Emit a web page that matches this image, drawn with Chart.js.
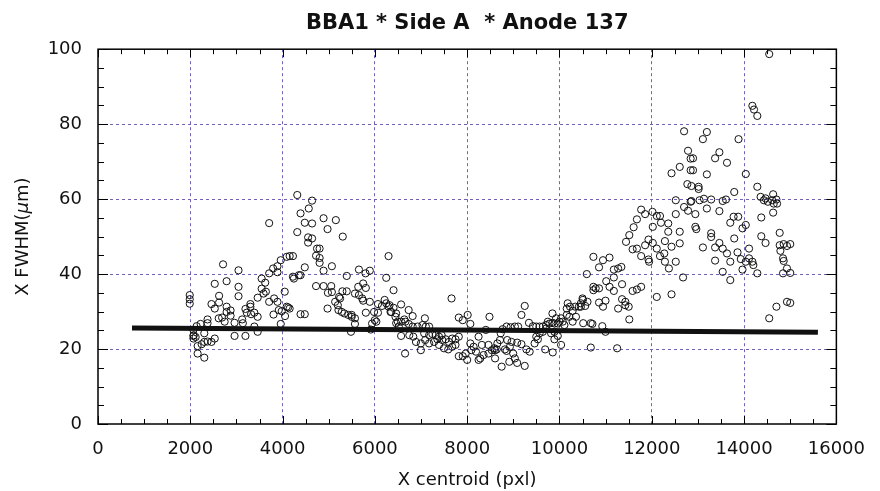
<!DOCTYPE html>
<html>
<head>
<meta charset="utf-8">
<script src="https://cdn.jsdelivr.net/npm/chart.js@4/dist/chart.umd.min.js"></script>
<style>
  html, body { margin: 0; padding: 0; background: #fff; }
  canvas { display: block; }
</style>
</head>
<body>
<canvas id="fwhmChart" width="880" height="491"></canvas>
<script>
// Axis ticks
const xTickValues = [0, 2000, 4000, 6000, 8000, 10000, 12000, 14000, 16000];
const yTickValues = [0, 20, 40, 60, 80, 100];

// Measured points [x centroid (pxl), X FWHM (um)], grouped by x range
const pts2000to4000 = [
  [1988, 34.4], [1988, 33.3], [1988, 32.1], [2710, 42.6], [3045, 41.0], [2530, 37.4], [2787, 38.1],
  [3045, 36.6], [3045, 34.1], [2624, 34.2], [2459, 32.0], [2530, 30.8], [2624, 32.4], [2787, 31.3],
  [2787, 29.9], [2873, 30.3], [2873, 28.9], [2689, 28.4], [2616, 28.2], [2744, 27.3], [2959, 27.0],
  [2374, 27.9], [2374, 26.9], [2223, 26.7], [2138, 26.1], [2067, 25.1], [2067, 23.5], [2067, 22.8],
  [2303, 24.2], [2530, 22.8], [2459, 21.9], [2374, 22.0], [2303, 21.9], [2245, 21.3], [2159, 20.8],
  [2159, 18.8], [2303, 17.7], [2959, 23.5], [3195, 23.5], [3195, 30.7], [3302, 32.0], [3302, 31.3],
  [3224, 29.7], [3124, 27.9], [3139, 26.9], [3317, 29.3], [3388, 29.7], [3460, 28.6], [3388, 26.0],
  [3460, 24.6], [3460, 33.7], [3546, 38.8], [3623, 37.7], [3546, 36.1], [3589, 34.8], [3638, 35.3],
  [3709, 40.2], [3795, 41.5], [3889, 42.1], [3960, 43.7], [3889, 40.5], [4089, 44.6], [3709, 32.6],
  [3816, 33.5], [3889, 32.6], [3803, 29.2], [3981, 30.1], [4046, 35.3], [3960, 26.7], [4089, 31.3],
  [3709, 53.6], [3917, 30.4], [4053, 28.8], [4120, 31.1], [2073, 23.7], [2116, 23.2]
];
const pts4000to6300 = [
  [4318, 61.1], [4639, 59.6], [4567, 57.5], [4389, 56.2], [4481, 53.7], [4639, 53.5], [4888, 54.9],
  [5154, 54.4], [4974, 52.0], [4318, 51.2], [5304, 50.0], [4553, 49.8], [4639, 49.5], [4553, 48.4],
  [4746, 46.8], [4802, 46.8], [4725, 44.9], [4802, 44.3], [4802, 43.0], [4153, 44.8], [4224, 44.8],
  [4481, 41.8], [4224, 39.3], [4245, 38.8], [4352, 39.7], [4389, 39.7], [4888, 40.9], [5068, 42.1],
  [5390, 39.5], [4725, 36.8], [4888, 36.8], [5054, 36.8], [4982, 35.0], [5068, 35.2], [5296, 35.4],
  [5390, 35.4], [4389, 29.3], [4481, 29.3], [4974, 30.8], [4153, 30.8], [5139, 32.6], [5197, 31.7],
  [5225, 33.9], [5246, 33.5], [5210, 30.4], [5282, 29.9], [5339, 29.5], [5424, 29.1], [5497, 29.1],
  [5568, 28.2], [5497, 28.6], [5568, 26.7], [5482, 24.6], [5654, 41.2], [5797, 40.2], [5890, 40.9],
  [5639, 36.6], [5746, 37.5], [5804, 36.3], [5568, 34.8], [5654, 34.4], [5725, 33.5], [5746, 32.9],
  [5890, 32.6], [5804, 29.7], [5982, 29.9], [6067, 32.0], [6153, 31.5], [6211, 33.1], [6246, 32.2],
  [6296, 31.3], [6339, 29.9], [5997, 27.7], [6032, 27.3], [5939, 26.8], [5911, 25.2], [6067, 29.7],
  [6296, 44.8], [6246, 39.0]
];
const pts6300to8600 = [
  [6404, 35.7], [6318, 31.7], [6404, 31.0], [6354, 29.9], [6461, 29.5], [6446, 28.6], [6568, 31.9],
  [6732, 30.4], [6818, 28.8], [6496, 27.3], [6568, 27.3], [6639, 27.9], [6661, 27.3], [6732, 26.7],
  [6461, 26.9], [6518, 26.0], [6568, 23.5], [6654, 18.8], [6746, 23.7], [6832, 23.3], [6890, 21.9],
  [6996, 21.5], [6996, 19.7], [6925, 26.0], [7032, 26.4], [7083, 28.2], [7104, 26.0], [7175, 26.0],
  [6818, 26.0], [7068, 24.2], [7175, 23.7], [7246, 24.0], [7318, 23.7], [7389, 23.3], [7447, 23.7],
  [7090, 22.4], [7175, 21.5], [7283, 21.9], [7354, 22.6], [7461, 22.4], [7533, 22.6], [7604, 21.9],
  [7675, 22.8], [7747, 22.6], [7818, 23.3], [7389, 21.1], [7497, 20.2], [7590, 19.9], [7675, 20.6],
  [7747, 21.1], [7661, 33.5], [7818, 28.4], [7904, 27.7], [8011, 29.1], [8068, 26.7], [7818, 18.1],
  [7904, 18.1], [8000, 17.1], [7968, 18.8], [8068, 21.5], [8140, 20.6], [8090, 19.7], [8190, 19.3],
  [8247, 23.3], [8318, 21.1], [8354, 18.4], [8247, 17.1], [8283, 17.5], [8404, 25.1], [8483, 28.6],
  [8462, 18.8], [8533, 19.7], [8590, 20.2], [8462, 21.1]
];
const pts8600to10800 = [
  [10735, 44.6], [10592, 40.0], [10735, 36.6], [10735, 35.7], [10500, 33.5], [10607, 32.6], [10464, 32.2],
  [10557, 31.5], [10464, 31.3], [10178, 32.2], [10228, 31.3], [10157, 30.8], [10342, 31.3], [10285, 30.2],
  [10357, 28.6], [10157, 29.1], [10214, 28.6], [10035, 28.2], [10071, 27.3], [10000, 27.3], [10107, 26.4],
  [10285, 27.3], [10514, 26.9], [10678, 26.9], [10678, 20.4], [9847, 29.5], [9926, 28.2], [9893, 26.8],
  [9847, 27.0], [9963, 26.8], [9783, 26.8], [9711, 26.4], [9747, 27.3], [9640, 26.0], [9568, 26.0],
  [9497, 26.0], [9425, 26.1], [9339, 27.0], [9247, 31.5], [9176, 29.1], [9104, 26.0], [9033, 26.0],
  [8940, 25.8], [8854, 26.0], [8768, 25.3], [8726, 24.2], [9640, 24.6], [9568, 24.2], [9497, 23.3],
  [9711, 25.5], [9818, 24.2], [9890, 24.6], [9963, 23.5], [8711, 22.4], [8654, 21.5], [8640, 19.9],
  [8818, 19.9], [8868, 22.4], [8961, 21.9], [9083, 21.7], [9176, 21.3], [9283, 19.9], [9354, 19.3],
  [9461, 21.5], [9532, 22.6], [8747, 15.3], [8913, 16.6], [9033, 17.5], [9247, 15.5], [9854, 19.1],
  [9690, 19.9], [10035, 21.1], [9890, 22.6], [8997, 18.8], [9083, 16.3], [8925, 20.6], [8854, 19.5],
  [8604, 19.7], [8604, 17.5], [10421, 31.3], [10507, 33.1]
];
const pts10800to12900 = [
  [12700, 78.1], [12786, 72.9], [12842, 70.8], [12606, 68.6], [12428, 66.9], [12842, 67.7], [12771, 64.0],
  [12520, 59.7], [12700, 57.9], [12786, 56.9], [12842, 59.3], [12520, 56.0], [12606, 51.3], [12606, 48.2],
  [12678, 39.1], [12428, 34.6], [12520, 43.3], [12428, 47.3], [11770, 57.2], [11856, 56.0], [11678, 54.6],
  [11607, 52.5], [11513, 50.4], [11442, 48.6], [11585, 46.6], [11678, 46.8], [11856, 47.7], [11770, 44.8],
  [12015, 56.6], [12022, 52.6], [12022, 48.3], [11929, 49.2], [11929, 43.9], [11942, 43.3], [12108, 55.5],
  [12178, 55.5], [12199, 53.7], [12357, 53.5], [12357, 51.3], [12285, 48.8], [12108, 46.8], [12178, 44.8],
  [12271, 45.5], [12285, 43.3], [12371, 41.5], [10857, 41.8], [10943, 43.7], [11084, 44.4], [11178, 41.2],
  [11271, 41.5], [11341, 41.9], [11013, 38.1], [11178, 39.1], [10785, 36.2], [10857, 36.2], [11084, 36.6],
  [11178, 35.5], [11356, 37.3], [11770, 36.6], [11678, 35.9], [11585, 35.5], [10997, 32.9], [10857, 32.4],
  [10943, 31.3], [11271, 30.8], [11356, 33.3], [11427, 32.6], [11500, 31.3], [11427, 31.7], [11513, 27.9],
  [12108, 33.9], [10928, 26.1], [10997, 24.6], [10714, 26.7], [11249, 20.2]
];
const pts12900to15000 = [
  [14545, 98.7], [14180, 84.9], [14215, 83.9], [14287, 82.2], [13194, 77.9], [13108, 76.0], [13880, 76.0],
  [13465, 72.5], [13372, 70.9], [13630, 69.7], [12894, 70.9], [12894, 67.7], [13194, 66.6], [14037, 66.7],
  [13015, 63.3], [13015, 62.7], [12858, 63.5], [13787, 61.9], [14287, 63.3], [14630, 61.3], [14358, 60.6],
  [13036, 59.7], [13130, 60.1], [13287, 59.9], [13537, 59.5], [13608, 59.9], [12858, 59.5], [14429, 59.7],
  [14515, 59.3], [14608, 59.7], [14700, 59.9], [14643, 58.8], [14715, 58.8], [14465, 60.2], [12944, 56.0],
  [13194, 57.5], [13465, 56.8], [14630, 56.4], [13773, 55.3], [13873, 55.3], [13701, 53.7], [13966, 52.2],
  [14037, 53.1], [14373, 55.1], [12944, 52.6], [12965, 52.0], [13287, 50.9], [13287, 49.9], [13787, 49.5],
  [13465, 48.3], [14373, 50.1], [14465, 48.3], [14772, 51.0], [13108, 47.1], [13372, 47.1], [13537, 46.8],
  [13630, 45.5], [13858, 45.8], [14108, 46.8], [13929, 44.0], [14037, 43.3], [14108, 44.2], [14180, 43.3],
  [14201, 42.4], [14287, 40.2], [13701, 43.3], [13372, 43.6], [13537, 40.6], [13701, 38.4], [13966, 41.2],
  [14772, 47.7], [14858, 48.0], [15001, 48.0], [14930, 47.5], [14787, 46.2], [14844, 44.2], [14858, 43.5],
  [14930, 41.5], [15001, 40.3], [14844, 40.2], [14930, 32.6], [15001, 32.3], [14701, 31.3], [14545, 28.2]
];

// Fitted line end points
const fitX = [737, 15600];
const fitY = [25.6, 24.5];

const titleText = 'BBA1 * Side A  * Anode 137';
const FONT = "'DejaVu Sans', 'Liberation Sans', Arial, sans-serif";
const gridColor = '#7360b0';

const scatterPoints = [].concat(pts2000to4000, pts4000to6300, pts6300to8600,
  pts8600to10800, pts10800to12900, pts12900to15000).map(p => ({ x: p[0], y: p[1] }));
const fitPoints = fitX.map((x, i) => ({ x: x, y: fitY[i] }));

// inward minor/major ticks, full frame, and y title with italic mu
const frameTicks = {
  id: 'frameTicks',
  beforeDatasetsDraw(chart) {
    const { ctx, chartArea: a, scales: { x, y } } = chart;
    ctx.save();
    ctx.strokeStyle = '#000';
    ctx.lineWidth = 1;
    ctx.beginPath();
    for (let v = x.min; v <= x.max; v += 500) {
      const px = Math.round(x.getPixelForValue(v)) + 0.5;
      const len = v % 2000 === 0 ? 8 : 5;
      ctx.moveTo(px, a.bottom); ctx.lineTo(px, a.bottom - len);
      ctx.moveTo(px, a.top); ctx.lineTo(px, a.top + len);
    }
    for (let v = y.min; v <= y.max; v += 5) {
      const py = Math.round(y.getPixelForValue(v)) + 0.5;
      const len = v % 20 === 0 ? 10 : 6;
      ctx.moveTo(a.left, py); ctx.lineTo(a.left + len, py);
      ctx.moveTo(a.right, py); ctx.lineTo(a.right - len, py);
    }
    ctx.stroke();
    ctx.lineWidth = 1.5;
    ctx.strokeRect(a.left, a.top, a.right - a.left, a.bottom - a.top);
    ctx.restore();
  },
  afterDraw(chart) {
    const { ctx, chartArea: a } = chart;
    const parts = [
      { t: 'X FWHM(', f: '18px ' + FONT },
      { t: '\u03bc', f: 'italic 18px ' + FONT },
      { t: 'm)', f: '18px ' + FONT }
    ];
    ctx.save();
    let total = 0;
    parts.forEach(p => { ctx.font = p.f; p.w = ctx.measureText(p.t).width; total += p.w; });
    ctx.translate(23, (a.top + a.bottom) / 2);
    ctx.rotate(-Math.PI / 2);
    ctx.fillStyle = '#111';
    ctx.textBaseline = 'middle';
    ctx.textAlign = 'left';
    let cx = -total / 2;
    parts.forEach(p => { ctx.font = p.f; ctx.fillText(p.t, cx, 0); cx += p.w; });
    ctx.restore();
  }
};

const edgeHidden = (ctx, lo, hi) => {
  const v = ctx.tick ? ctx.tick.value : null;
  return (v === lo || v === hi) ? 'rgba(0,0,0,0)' : gridColor;
};

new Chart(document.getElementById('fwhmChart').getContext('2d'), {
  type: 'scatter',
  data: {
    datasets: [{
      type: 'line',
      data: fitPoints,
      showLine: true,
      borderColor: '#111',
      borderWidth: 5,
      pointRadius: 0,
      fill: false
    }, {
      data: scatterPoints,
      pointStyle: 'circle',
      pointRadius: 3.6,
      borderColor: '#111',
      borderWidth: 1,
      backgroundColor: 'rgba(0,0,0,0)'
    }]
  },
  options: {
    responsive: false,
    animation: false,
    layout: { padding: { left: 0, right: 34, top: 0, bottom: 0 } },
    plugins: {
      legend: { display: false },
      tooltip: { enabled: false },
      title: {
        display: true,
        text: titleText,
        fullSize: false,
        color: '#111',
        font: { family: FONT, size: 21, weight: 'bold', lineHeight: 1.2 },
        padding: { top: 11, bottom: 13 }
      }
    },
    scales: {
      x: {
        type: 'linear',
        min: 0,
        max: 16000,
        afterBuildTicks: s => { s.ticks = xTickValues.map(v => ({ value: v })); },
        afterFit: s => { s.height = 67; },
        grid: {
          color: c => edgeHidden(c, 0, 16000),
          lineWidth: 1,
          drawTicks: false
        },
        border: { display: false, dash: [3, 3] },
        ticks: {
          color: '#111',
          padding: 15,
          maxRotation: 0,
          font: { family: FONT, size: 18 },
          callback: v => String(v)
        },
        title: {
          display: true,
          text: 'X centroid (pxl)',
          color: '#111',
          font: { family: FONT, size: 18 },
          padding: { top: 0, bottom: 0 }
        }
      },
      y: {
        type: 'linear',
        min: 0,
        max: 100,
        afterBuildTicks: s => { s.ticks = yTickValues.map(v => ({ value: v })); },
        afterFit: s => { s.width = 98; },
        grid: {
          color: c => edgeHidden(c, 0, 100),
          lineWidth: 1,
          drawTicks: false
        },
        border: { display: false, dash: [3, 3] },
        ticks: {
          color: '#111',
          padding: 16,
          font: { family: FONT, size: 18 },
          callback: v => String(v)
        }
      }
    }
  },
  plugins: [frameTicks]
});
</script>
</body>
</html>
